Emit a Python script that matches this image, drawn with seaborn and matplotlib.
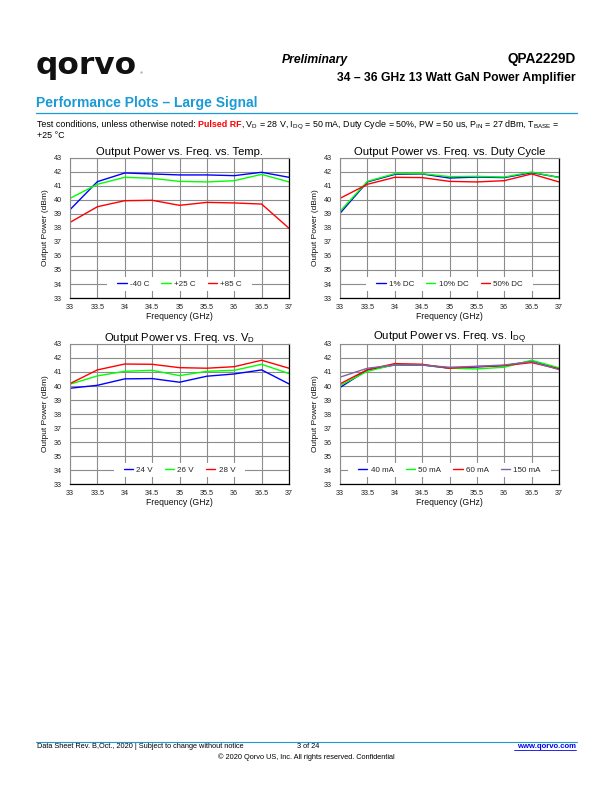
import numpy as np
import pandas as pd
import matplotlib
matplotlib.use("Agg")
import matplotlib.pyplot as plt
from matplotlib.patches import Rectangle
import seaborn as sns

sns.set_theme(style="white")
plt.rcParams['font.family'] = ['Liberation Sans', 'DejaVu Sans']
plt.rcParams['mathtext.fontset'] = 'custom'
plt.rcParams['mathtext.rm'] = 'Liberation Sans'
plt.rcParams['mathtext.it'] = 'Liberation Sans:italic'
plt.rcParams['mathtext.bf'] = 'Liberation Sans:bold'

# ---------------- data ----------------
freq = [33, 33.5, 34, 34.5, 35, 35.5, 36, 36.5, 37]

temp_labels = ["-40 C", "+25 C", "+85 C"]
temp_m40 = [39.31, 41.31, 41.93, 41.86, 41.79, 41.79, 41.74, 41.98, 41.62]
temp_p25 = [40.12, 41.12, 41.62, 41.55, 41.33, 41.29, 41.38, 41.83, 41.29]
temp_p85 = [38.40, 39.52, 39.95, 39.98, 39.62, 39.83, 39.79, 39.71, 37.98]

dc_labels = ["1% DC", "10% DC", "50% DC"]
dc_1 = [39.05, 41.29, 41.83, 41.86, 41.57, 41.64, 41.60, 41.95, 41.62]
dc_10 = [39.19, 41.33, 41.88, 41.88, 41.67, 41.69, 41.64, 42.00, 41.60]
dc_50 = [40.12, 41.12, 41.62, 41.60, 41.33, 41.29, 41.38, 41.86, 41.29]

vd_labels = ["24 V", "26 V", "28 V"]
vd_24 = [39.84, 40.05, 40.51, 40.53, 40.27, 40.70, 40.86, 41.15, 40.15]
vd_26 = [40.13, 40.72, 41.05, 41.12, 40.74, 41.05, 41.12, 41.55, 40.89]
vd_28 = [40.17, 41.15, 41.57, 41.55, 41.31, 41.27, 41.38, 41.84, 41.27]

idq_labels = ["40 mA", "50 mA", "60 mA", "150 mA"]
idq_40 = [39.89, 41.15, 41.50, 41.50, 41.27, 41.36, 41.46, 41.76, 41.22]
idq_50 = [40.03, 41.05, 41.53, 41.53, 41.27, 41.22, 41.34, 41.84, 41.30]
idq_60 = [40.15, 41.17, 41.60, 41.55, 41.27, 41.39, 41.46, 41.67, 41.22]
idq_150 = [40.63, 41.27, 41.50, 41.50, 41.34, 41.41, 41.50, 41.74, 41.17]

x_ticks = [33, 33.5, 34, 34.5, 35, 35.5, 36, 36.5, 37]
x_tick_labels = ["33", "33.5", "34", "34.5", "35", "35.5", "36", "36.5", "37"]
y_ticks = list(range(33, 44))

BLUE, GREEN, RED, PURPLE = "#0000ff", "#00ff00", "#ff0000", "#8064a2"
HEAD_BLUE = "#1a9ad6"

W, H = 612, 792
fig = plt.figure(figsize=(W / 100, H / 100), dpi=100)


def ax_rect(x0, y0, x1, y1):
    return [x0 / W, 1 - y1 / H, (x1 - x0) / W, (y1 - y0) / H]


legends = []


def make_plot(rect, title, labels, series, colors):
    ax = fig.add_axes(rect)
    rows = []
    for lab, vals in zip(labels, series):
        for f, v in zip(freq, vals):
            rows.append({"freq": f, "pout": v, "series": lab})
    df = pd.DataFrame(rows)
    sns.lineplot(data=df, x="freq", y="pout", hue="series", hue_order=labels,
                 palette=dict(zip(labels, colors)), ax=ax, linewidth=1.0,
                 legend=False, sort=False)
    ax.set_xlim(33, 37)
    ax.set_ylim(33, 43)
    ax.set_xticks(x_ticks)
    ax.set_xticklabels(x_tick_labels)
    ax.set_yticks(y_ticks)
    ax.tick_params(axis="both", length=0, labelsize=5.2, colors="#222222")
    ax.tick_params(axis="x", pad=4.5)
    ax.tick_params(axis="y", pad=6)
    ax.grid(True, color="#8c8c8c", linewidth=0.8)
    ax.set_axisbelow(True)
    for s in ["left", "top"]:
        ax.spines[s].set_color("#8c8c8c")
        ax.spines[s].set_linewidth(0.8)
    for s in ["right", "bottom"]:
        ax.spines[s].set_color("black")
        ax.spines[s].set_linewidth(0.9)
    ax.set_title(title, fontsize=8.1, pad=2.5, color="black")
    ax.set_xlabel("Frequency (GHz)", fontsize=6.2, labelpad=0.5, color="#111111")
    ax.set_ylabel("Output Power (dBm)", fontsize=6.0, labelpad=3, color="#111111")
    handles = [plt.Line2D([], [], color=c, linewidth=1.0) for c in colors]
    leg = ax.legend(handles, labels, loc="center", bbox_to_anchor=(0.5, 0.1),
                    ncol=len(labels), fontsize=5.8, frameon=False, handlelength=1.15,
                    handletextpad=0.4, columnspacing=1.5, borderpad=0.0,
                    borderaxespad=0.0)
    leg.set_zorder(5)
    legends.append((ax, leg))
    return ax


make_plot(ax_rect(70, 158, 289, 298), "Output Power vs. Freq. vs. Temp.",
          temp_labels, [temp_m40, temp_p25, temp_p85], [BLUE, GREEN, RED])
make_plot(ax_rect(340, 158, 559, 298), "Output Power vs. Freq. vs. Duty Cycle",
          dc_labels, [dc_1, dc_10, dc_50], [BLUE, GREEN, RED])
make_plot(ax_rect(70, 344, 289, 484), r"Output Power vs. Freq. vs. V$_\mathrm{D}$",
          vd_labels, [vd_24, vd_26, vd_28], [BLUE, GREEN, RED])
make_plot(ax_rect(340, 344, 559, 484), r"Output Power vs. Freq. vs. I$_\mathrm{DQ}$",
          idq_labels, [idq_40, idq_50, idq_60, idq_150], [BLUE, GREEN, RED, PURPLE])

fig.canvas.draw()
renderer = fig.canvas.get_renderer()
for ax, leg in legends:
    bb = leg.get_window_extent(renderer=renderer)
    padx, pady = 10, 3
    inv = ax.transAxes.inverted()
    (x0, y0) = inv.transform((bb.x0 - padx, bb.y0 - pady))
    (x1, y1) = inv.transform((bb.x1 + padx, bb.y1 + pady))
    ax.add_patch(Rectangle((x0, y0), x1 - x0, y1 - y0, transform=ax.transAxes,
                           facecolor="white", edgecolor="none", zorder=1.5))

# ---------------- page text ----------------
def fx(x):
    return x / W


def fy(y):
    return 1 - y / H


fig.text(fx(36), fy(74), "qorvo", fontsize=22.5, fontweight="bold", color="#111111",
         va="baseline", ha="left", family="DejaVu Sans")
fig.text(fx(140), fy(74), "®", fontsize=3, color="#555555", va="baseline")
fig.text(fx(348), fy(63), "Preliminary", fontsize=8.7, fontweight="bold", style="italic",
         ha="right", va="baseline", color="black")
fig.text(fx(576), fy(63), "QPA2229D", fontsize=9.8, fontweight="bold",
         ha="right", va="baseline", color="black")
fig.text(fx(576), fy(81), "34 – 36 GHz 13 Watt GaN Power Amplifier", fontsize=8.75,
         fontweight="semibold", ha="right", va="baseline", color="black")
fig.text(fx(36), fy(107), "Performance Plots – Large Signal", fontsize=10.0,
         fontweight="bold", ha="left", va="baseline", color=HEAD_BLUE)
fig.add_artist(plt.Line2D([fx(36), fx(577)], [fy(113), fy(113)], color=HEAD_BLUE,
                          linewidth=0.9))

# test conditions line, drawn piece by piece
segments = [
    ("Test conditions, unless otherwise noted: ", "black", "normal", 0),
    ("Pulsed RF", RED, "bold", -0.5),
    (r", V$_\mathrm{D}$ = 28 V, I$_\mathrm{DQ}$ = 50 mA, Duty Cycle = 50%, PW = 50 us, "
     r"P$_\mathrm{IN}$ = 27 dBm, T$_\mathrm{BASE}$ =", "black", "normal", 0),
]
xcur = fx(37)
for txt, col, wt, adj in segments:
    t = fig.text(xcur, fy(127), txt, fontsize=6.4, color=col, fontweight=wt,
                 ha="left", va="baseline")
    bb = t.get_window_extent(renderer=renderer)
    xcur += (bb.width + adj) / W
fig.text(fx(37), fy(137.5), "+25 °C", fontsize=6.4, color="black", ha="left", va="baseline")

# footer
fig.add_artist(plt.Line2D([fx(36), fx(577)], [fy(742), fy(742)], color=HEAD_BLUE,
                          linewidth=0.8))
fig.text(fx(37), fy(748.5), "Data Sheet Rev. B,Oct., 2020 | Subject to change without notice",
         fontsize=5.3, ha="left", va="baseline", color="black")
fig.text(fx(297), fy(748.5), "3 of 24", fontsize=5.3, ha="left", va="baseline", color="black")
fig.text(fx(576), fy(748.5), "www.qorvo.com", fontsize=5.6, fontweight="bold",
         ha="right", va="baseline", color="#0000ee")
fig.add_artist(plt.Line2D([fx(514), fx(576)], [fy(750), fy(750)], color="#0000ee",
                          linewidth=0.6))
fig.text(0.5, fy(759), "© 2020 Qorvo US, Inc. All rights reserved. Confidential",
         fontsize=5.3, ha="center", va="baseline", color="black")

fig.savefig("out.png", dpi=100)
